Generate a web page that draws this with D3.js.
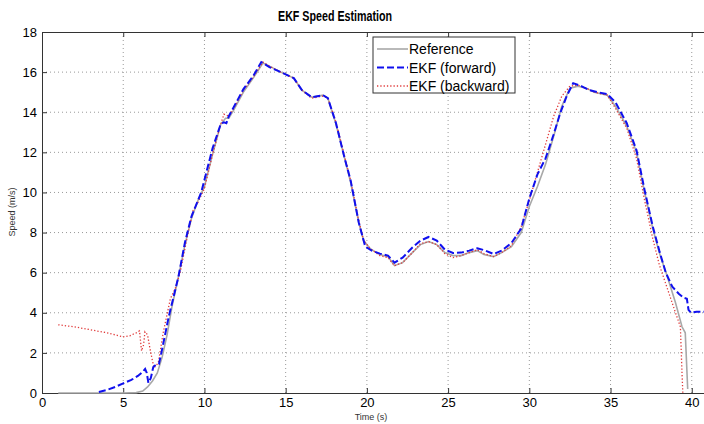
<!DOCTYPE html>
<html>
<head>
<meta charset="utf-8">
<script src="https://cdn.jsdelivr.net/npm/d3@7"></script>
<style>
  body { margin: 0; background: #fff; }
  svg { display: block; font-family: "Liberation Sans", Arial, sans-serif; }
</style>
</head>
<body>
<div id="viz"></div>
<script>
// tick values
var xTicks = [0, 5, 10, 15, 20, 25, 30, 35, 40];
var yTicks = [0, 2, 4, 6, 8, 10, 12, 14, 16, 18];

// Reference speed
var refT = [1, 2, 3, 4, 5, 5.8, 6.2, 6.5, 6.8, 7.1, 7.4, 7.7, 8.0, 8.4, 8.8, 9.2, 9.6, 10.0, 10.5, 11.0, 11.3, 11.5, 11.8, 12.4, 13.0, 13.6, 14.0, 14.7, 15.5, 16.0, 16.6, 17.3, 17.6, 18.1, 18.6, 19.0, 19.5, 19.8, 20.2, 20.8, 21.3, 21.7, 22.2, 22.8, 23.3, 23.8, 24.3, 24.8, 25.3, 25.8, 26.3, 26.8, 27.2, 27.8, 28.3, 28.9, 29.5, 30.0, 30.5, 31.0, 31.5, 32.0, 32.5, 33.0, 33.5, 34.0, 34.8, 35.3, 36.0, 36.6, 37.1, 37.6, 38.0, 38.5, 39.0, 39.4, 39.6, 39.75];
var refV = [0, 0, 0, 0, 0, 0.02, 0.1, 0.3, 0.6, 1.0, 1.8, 2.9, 4.3, 5.8, 7.4, 8.7, 9.6, 10.3, 11.9, 13.4, 13.7, 13.7, 14.1, 15.0, 15.7, 16.45, 16.3, 16.0, 15.7, 15.1, 14.75, 14.85, 14.7, 13.4, 11.8, 10.5, 8.5, 7.6, 7.2, 6.9, 6.8, 6.35, 6.5, 7.0, 7.4, 7.55, 7.4, 7.0, 6.85, 6.85, 7.0, 7.1, 6.9, 6.8, 7.0, 7.3, 8.0, 9.3, 10.3, 11.4, 12.8, 14.3, 15.2, 15.3, 15.2, 15.0, 14.85, 14.3, 13.3, 12.0, 10.0, 8.2, 7.0, 5.8, 4.5, 3.3, 3.0, 0.2];

// EKF forward
var fwdT = [3.5, 4.0, 4.5, 5.0, 5.5, 5.9, 6.2, 6.35, 6.45, 6.55, 6.7, 6.85, 7.0, 7.2, 7.4, 7.6, 7.8, 8.1, 8.4, 8.8, 9.2, 9.8, 10.5, 11.0, 11.2, 11.35, 11.5, 11.8, 12.4, 13.0, 13.5, 14.0, 14.7, 15.5, 16.0, 16.6, 17.3, 17.6, 18.1, 18.6, 19.0, 19.5, 19.9, 20.3, 20.8, 21.3, 21.7, 22.2, 22.8, 23.3, 23.8, 24.3, 24.8, 25.3, 25.8, 26.3, 26.8, 27.3, 27.8, 28.3, 28.9, 29.5, 30.0, 30.5, 31.0, 31.5, 31.9, 32.3, 32.7, 33.2, 33.7, 34.2, 34.8, 35.3, 36.0, 36.6, 37.1, 37.6, 38.0, 38.4, 38.8, 39.2, 39.5, 39.7, 39.8, 39.95, 40.3, 41];
var fwdV = [0.05, 0.15, 0.3, 0.48, 0.65, 0.85, 1.05, 1.2, 1.0, 0.5, 0.75, 1.3, 1.4, 1.45, 2.2, 3.0, 3.8, 4.8, 5.8, 7.5, 8.8, 10.0, 12.2, 13.4, 13.5, 13.45, 13.8, 14.25, 15.15, 15.8, 16.5, 16.25, 16.0, 15.7, 15.1, 14.75, 14.85, 14.7, 13.45, 11.8, 10.6, 8.5, 7.3, 7.1, 6.95, 6.85, 6.5, 6.75, 7.25, 7.6, 7.78, 7.6, 7.15, 6.98, 7.0, 7.1, 7.22, 7.1, 6.93, 7.1, 7.48, 8.2, 9.7, 10.9, 11.7, 12.9, 13.95, 14.8, 15.45, 15.3, 15.1, 15.0, 14.9, 14.5, 13.45, 12.1, 10.1, 8.3, 7.1, 6.0, 5.3, 4.95, 4.75, 4.7, 4.15, 4.0, 4.05, 4.05];

// EKF backward
var bwdT = [1.0, 2.0, 3.0, 4.0, 4.5, 5.0, 5.4, 5.8, 6.0, 6.13, 6.25, 6.34, 6.5, 6.65, 6.8, 6.9, 7.05, 7.16, 7.3, 7.46, 7.67, 7.9, 8.2, 8.5, 8.8, 9.0, 9.3, 9.6, 10.0, 10.5, 11.0, 11.2, 11.5, 11.8, 12.4, 13.0, 13.6, 14.0, 14.7, 15.5, 16.0, 16.6, 17.3, 17.6, 18.1, 18.6, 19.0, 19.5, 19.8, 20.2, 20.8, 21.3, 21.7, 22.2, 22.8, 23.3, 23.8, 24.3, 24.8, 25.3, 25.8, 26.3, 26.8, 27.2, 27.8, 28.3, 28.9, 29.5, 30.0, 30.5, 31.0, 31.5, 32.0, 32.5, 33.0, 33.5, 34.0, 34.8, 35.3, 36.0, 36.6, 37.1, 37.6, 38.0, 38.5, 39.0, 39.3, 39.4, 39.45];
var bwdV = [3.4, 3.3, 3.15, 3.0, 2.9, 2.8, 2.85, 3.0, 3.1, 2.1, 2.4, 3.05, 2.9, 2.2, 1.6, 1.25, 1.4, 1.5, 2.2, 3.0, 3.8, 4.7, 5.2, 6.0, 7.2, 8.0, 9.1, 9.5, 10.2, 11.9, 13.4, 13.9, 13.8, 14.2, 15.1, 15.75, 16.5, 16.3, 16.0, 15.7, 15.1, 14.7, 14.8, 14.7, 13.5, 11.9, 10.6, 8.6, 7.6, 7.2, 6.85, 6.75, 6.35, 6.5, 7.0, 7.45, 7.55, 7.4, 6.95, 6.75, 6.85, 7.0, 7.15, 6.95, 6.8, 7.0, 7.35, 8.3, 9.6, 11.0, 12.4, 13.8, 14.8, 15.3, 15.35, 15.2, 15.0, 14.85, 14.2, 13.2, 11.7, 9.6, 7.7, 6.4, 5.2, 4.0, 3.3, 1.0, 0];

var W = 704, H = 424;
var svg = d3.select("#viz").append("svg")
  .attr("width", W)
  .attr("height", H);

var x = d3.scaleLinear().domain([0, 41]).range([42, 708]);
var y = d3.scaleLinear().domain([0, 18]).range([393, 32]);

// dotted grid
svg.append("g").selectAll("line").data(xTicks.slice(1))
  .join("line")
  .attr("x1", d => x(d)).attr("x2", d => x(d))
  .attr("y1", y(18)).attr("y2", y(0))
  .attr("stroke", "#999").attr("stroke-dasharray", "1,3");
svg.append("g").selectAll("line").data(yTicks.slice(1, -1))
  .join("line")
  .attr("x1", x(0)).attr("x2", W)
  .attr("y1", d => y(d)).attr("y2", d => y(d))
  .attr("stroke", "#999").attr("stroke-dasharray", "1,3");

// axes (MATLAB style: inward ticks)
var axB = svg.append("g").attr("transform", "translate(0," + y(0) + ")")
  .call(d3.axisBottom(x).tickValues(xTicks).tickSize(-5).tickPadding(5));
var axT = svg.append("g").attr("transform", "translate(0," + y(18) + ")")
  .call(d3.axisTop(x).tickValues(xTicks).tickSize(-5).tickFormat(""));
var axL = svg.append("g").attr("transform", "translate(" + x(0) + ",0)")
  .call(d3.axisLeft(y).tickValues(yTicks).tickSize(-5).tickPadding(5));

[axB, axT, axL].forEach(function (a) {
  a.select(".domain").attr("stroke", "#333");
  a.selectAll(".tick line").attr("stroke", "#333");
  a.selectAll("text").attr("font-size", 13).attr("fill", "#000")
    .attr("font-family", "'Liberation Sans', Arial, sans-serif");
});

// lines
var line = d3.line().x(d => x(d[0])).y(d => y(d[1]));
var refData = d3.zip(refT, refV);
var fwdData = d3.zip(fwdT, fwdV);
var bwdData = d3.zip(bwdT, bwdV);

svg.append("path").datum(refData)
  .attr("d", line).attr("fill", "none")
  .attr("stroke", "#a8a8a8").attr("stroke-width", 1.6);
svg.append("path").datum(bwdData)
  .attr("d", line).attr("fill", "none")
  .attr("stroke", "#e03c3c").attr("stroke-width", 1.3)
  .attr("stroke-dasharray", "1.3,2");
svg.append("path").datum(fwdData)
  .attr("d", line).attr("fill", "none")
  .attr("stroke", "#1010ee").attr("stroke-width", 2)
  .attr("stroke-dasharray", "7,3");

// title and axis labels
svg.append("text")
  .attr("x", 278).attr("y", 21)
  .attr("textLength", 114).attr("lengthAdjust", "spacingAndGlyphs")
  .attr("font-weight", "bold").attr("font-size", 14)
  .text("EKF Speed Estimation");

svg.append("text")
  .attr("x", 371).attr("y", 420)
  .attr("text-anchor", "middle")
  .attr("font-size", 9).attr("fill", "#333")
  .text("Time (s)");

svg.append("text")
  .attr("transform", "translate(15,212) rotate(-90)")
  .attr("text-anchor", "middle")
  .attr("font-size", 9).attr("fill", "#333")
  .text("Speed (m/s)");

// legend
var legItems = [
  {name: "Reference", color: "#a8a8a8", dash: null, w: 1.6},
  {name: "EKF (forward)", color: "#1010ee", dash: "7,3", w: 2},
  {name: "EKF (backward)", color: "#e03c3c", dash: "1.3,2", w: 1.3}
];
var leg = svg.append("g").attr("transform", "translate(373,37)");
leg.append("rect")
  .attr("width", 142).attr("height", 56)
  .attr("fill", "#fff").attr("stroke", "#333");
var li = leg.selectAll("g.item").data(legItems).join("g")
  .attr("class", "item")
  .attr("transform", (d, i) => "translate(0," + (12 + i * 18.5) + ")");
li.append("line")
  .attr("x1", 4).attr("x2", 35).attr("y1", 0).attr("y2", 0)
  .attr("stroke", d => d.color).attr("stroke-width", d => d.w)
  .attr("stroke-dasharray", d => d.dash);
li.append("text")
  .attr("x", 36).attr("y", 5)
  .attr("font-size", 14)
  .text(d => d.name);
</script>
</body>
</html>
